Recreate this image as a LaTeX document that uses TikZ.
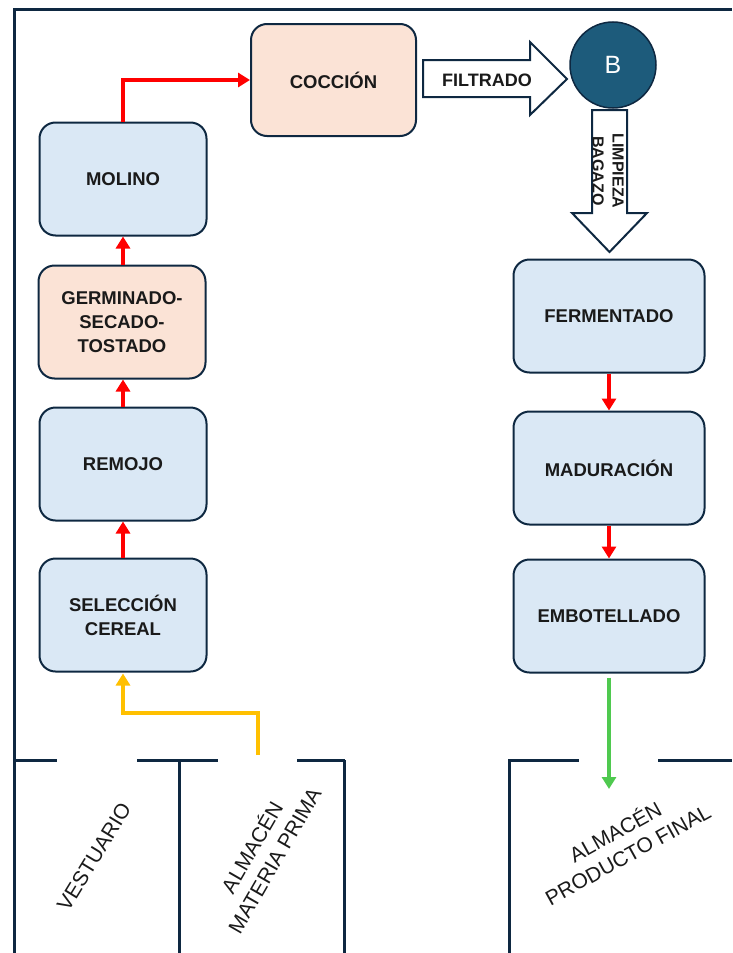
\documentclass[tikz,border=0pt]{standalone}
\usepackage{fontspec}
\setmainfont{Liberation Sans}
\usetikzlibrary{arrows.meta,shapes.geometric}
\definecolor{boxblue}{HTML}{DAE8F5}
\definecolor{boxpeach}{HTML}{FBE3D6}
\definecolor{edge}{HTML}{0E2841}
\definecolor{bteal}{HTML}{1D5B7B}
\definecolor{arred}{HTML}{FF0000}
\definecolor{aryel}{HTML}{FFC000}
\definecolor{argrn}{HTML}{4FC94F}
\definecolor{txt}{HTML}{1A1A1A}
\tikzset{
  procbox/.style={draw=edge, line width=2pt, rounded corners=16pt, fill=boxblue,
    minimum width=167pt, minimum height=113pt, align=center, text=txt,
    font=\fontsize{18.5}{24}\selectfont\bfseries, inner sep=2pt},
  peach/.style={fill=boxpeach},
  wide/.style={minimum width=191pt},
  flowred/.style={draw=arred, line width=3.5pt, -{Triangle[length=12pt,width=14pt]}},
  flowyel/.style={draw=aryel, line width=3.5pt, -{Triangle[length=12pt,width=14pt]}},
  flowgrn/.style={draw=argrn, line width=3.5pt, -{Triangle[length=12pt,width=14pt]}},
  wall/.style={draw=edge, line width=3pt},
  blockarrow/.style={draw=edge, line width=2pt, fill=white, line join=miter},
  roomlabel/.style={align=center, text=txt, font=\fontsize{21}{26}\selectfont},
}
\begin{document}
\begin{tikzpicture}[x=1pt,y=-1pt]
\useasboundingbox (0,0) rectangle (732,953);
% outer walls
\draw[wall] (14,953) -- (14,9) -- (732,9);
% left rooms
\draw[wall] (14,760) -- (57,760);
\draw[wall] (137,760) -- (218,760);
\draw[wall] (297,760) -- (345,760);
\draw[wall] (179,760) -- (179,953);
\draw[wall] (344,760) -- (344,953);
% right room
\draw[wall] (509,953) -- (509,760) -- (579,760);
\draw[wall] (658,760) -- (732,760);

% process boxes
\node[procbox] (molino) at (123,179) {MOLINO};
\node[procbox,peach] (germ) at (122,322) {GERMINADO-\\SECADO-\\TOSTADO};
\node[procbox] (remojo) at (123,464) {REMOJO};
\node[procbox] (selec) at (123,615) {SELECCIÓN\\CEREAL};
\node[procbox,peach,minimum width=165pt,minimum height=112pt] (coccion) at (333.5,80) {COCCIÓN};
\node[procbox,wide] (ferm) at (609,316) {FERMENTADO};
\node[procbox,wide] (madur) at (609,468) {MADURACIÓN};
\node[procbox,wide] (embot) at (609,616) {EMBOTELLADO};

% B circle
\node[circle, draw=edge, line width=1.5pt, fill=bteal, minimum size=86pt, text=white,
  font=\fontsize{25}{25}\selectfont, inner sep=0pt] (b) at (613,65) {B};

% block arrows
\draw[blockarrow] (423,60) -- (530,60) -- (530,42) -- (567,79) -- (530,115) -- (530,97) -- (423,97) -- cycle;
\node[text=txt, font=\fontsize{18}{20}\selectfont\bfseries] (filtrado) at (487,80) {FILTRADO};
\draw[blockarrow] (592,110) -- (627,110) -- (627,213) -- (647,213) -- (609.5,252) -- (572,213) -- (592,213) -- cycle;
\node[rotate=-90, align=center, text=txt, font=\fontsize{16}{20}\selectfont\bfseries] (limp) at (608,171) {LIMPIEZA\\BAGAZO};

% red flow arrows
\draw[flowred] (molino.north) |- (coccion.west);
\draw[flowred] (germ.north -| molino.south) -- (molino.south);
\draw[flowred] (remojo.north) -- (remojo.north |- germ.south);
\draw[flowred] (selec.north) -- (remojo.south);
\draw[flowred] (ferm.south) -- (madur.north);
\draw[flowred] (madur.south) -- (embot.north);

% yellow arrow from storage
\coordinate (ystart) at (258,755);
\draw[flowyel] (ystart) -- (258,713) -| ([yshift=-1pt]selec.south);
% green arrow to final storage
\coordinate (gend) at (609,789);
\draw[flowgrn, shorten <=4pt] (embot.south) -- (gend);

% room labels
\node[roomlabel, rotate=58.5] (vest) at (94,857) {VESTUARIO};
\node[roomlabel, rotate=60] (amp) at (262,853) {ALMACÉN\\MATERIA PRIMA};
\node[roomlabel, rotate=29] (apf) at (621,842) {ALMACÉN\\PRODUCTO FINAL};
\end{tikzpicture}
\end{document}
